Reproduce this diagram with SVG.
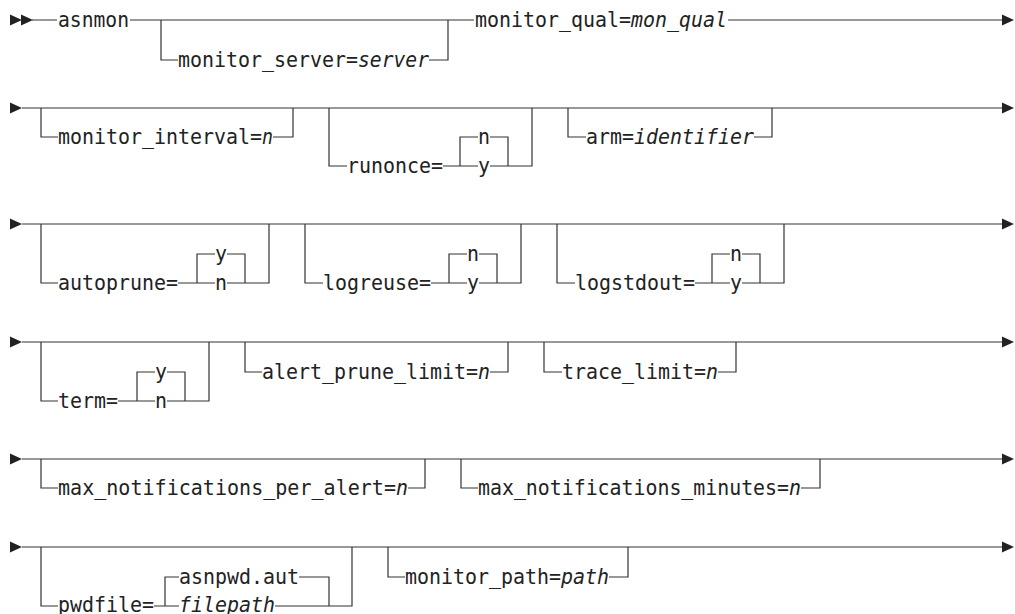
<svg xmlns="http://www.w3.org/2000/svg" xmlns:xlink="http://www.w3.org/1999/xlink" width="1015" height="614" viewBox="0 0 1015 614">
<style>
.t{font-family:"DejaVu Sans Mono","Liberation Mono",monospace;font-size:22px;fill:#222}
.i{font-style:italic}
.l{stroke:#333;stroke-width:1.2;fill:none}
.a{fill:#222}
</style>
<defs>
<path id="arr" d="M0,-5.5 L12,0 L0,5.5 Z"/>
</defs>
<rect width="1015" height="614" fill="#fff"/>
<g id="connectors">
<path class="l" d="M32,20 H57 M130,20 H474 M728,20 H1003 M161,20 V60 H178 M429,60 H448 V20"/>
<path class="l" d="M22,108 H1003 M41,108 V137 H58 M273,137 H293 V108 M329,108 V166 H347 M443,166 H478 M490,166 H532 V108 M460,166 V137 H478 M490,137 H508 V166 M568,108 V137 H586 M754,137 H772 V108"/>
<path class="l" d="M22,224 H1003 M41,224 V283 H58 M178,283 H215 M227,283 H269 V224 M197,283 V254 H215 M227,254 H245 V283 M305,224 V283 H323 M431,283 H467 M479,283 H521 V224 M449,283 V254 H467 M479,254 H497 V283 M557,224 V283 H575 M695,283 H730 M742,283 H784 V224 M712,283 V254 H730 M742,254 H760 V283"/>
<path class="l" d="M22,342 H1003 M41,342 V401 H58 M118,401 H155 M167,401 H209 V342 M137,401 V372 H155 M167,372 H185 V401 M245,342 V372 H262 M490,372 H508 V342 M544,342 V372 H562 M718,372 H736 V342"/>
<path class="l" d="M22,459 H1003 M41,459 V488 H58 M408,488 H425 V459 M461,459 V488 H478 M801,488 H820 V459"/>
<path class="l" d="M22,547 H1003 M41,547 V606 H58 M154,606 H179 M275,606 H352 V547 M165,606 V577 H179 M299,577 H329 V606 M388,547 V577 H405 M609,577 H628 V547"/>
<use xlink:href="#arr" class="a" x="10" y="20"/>
<use xlink:href="#arr" class="a" x="21" y="20"/>
<use xlink:href="#arr" class="a" x="1002" y="20"/>
<use xlink:href="#arr" class="a" x="10" y="108"/>
<use xlink:href="#arr" class="a" x="1002" y="108"/>
<use xlink:href="#arr" class="a" x="10" y="224"/>
<use xlink:href="#arr" class="a" x="1002" y="224"/>
<use xlink:href="#arr" class="a" x="10" y="342"/>
<use xlink:href="#arr" class="a" x="1002" y="342"/>
<use xlink:href="#arr" class="a" x="10" y="459"/>
<use xlink:href="#arr" class="a" x="1002" y="459"/>
<use xlink:href="#arr" class="a" x="10" y="547"/>
<use xlink:href="#arr" class="a" x="1002" y="547"/>
</g>
<g id="asnmon"><text class="t" x="58" y="27" textLength="71" lengthAdjust="spacingAndGlyphs">asnmon</text></g>
<g id="monitor_server"><text class="t" x="178" y="67" textLength="180" lengthAdjust="spacingAndGlyphs">monitor_server=</text>
<text class="t i" x="358" y="67" textLength="71" lengthAdjust="spacingAndGlyphs">server</text></g>
<g id="monitor_qual"><text class="t" x="475" y="27" textLength="156" lengthAdjust="spacingAndGlyphs">monitor_qual=</text>
<text class="t i" x="631" y="27" textLength="96" lengthAdjust="spacingAndGlyphs">mon_qual</text></g>
<g id="monitor_interval"><text class="t" x="58" y="144" textLength="204" lengthAdjust="spacingAndGlyphs">monitor_interval=</text>
<text class="t i" x="262" y="144" textLength="11" lengthAdjust="spacingAndGlyphs">n</text></g>
<g id="runonce"><text class="t" x="347" y="173" textLength="96" lengthAdjust="spacingAndGlyphs">runonce=</text>
<text class="t" x="478" y="144" textLength="12" lengthAdjust="spacingAndGlyphs">n</text>
<text class="t" x="478" y="173" textLength="12" lengthAdjust="spacingAndGlyphs">y</text></g>
<g id="arm"><text class="t" x="586" y="144" textLength="48" lengthAdjust="spacingAndGlyphs">arm=</text>
<text class="t i" x="634" y="144" textLength="120" lengthAdjust="spacingAndGlyphs">identifier</text></g>
<g id="autoprune"><text class="t" x="58" y="290" textLength="120" lengthAdjust="spacingAndGlyphs">autoprune=</text>
<text class="t" x="215" y="261" textLength="12" lengthAdjust="spacingAndGlyphs">y</text>
<text class="t" x="215" y="290" textLength="12" lengthAdjust="spacingAndGlyphs">n</text></g>
<g id="logreuse"><text class="t" x="323" y="290" textLength="108" lengthAdjust="spacingAndGlyphs">logreuse=</text>
<text class="t" x="467" y="261" textLength="12" lengthAdjust="spacingAndGlyphs">n</text>
<text class="t" x="467" y="290" textLength="12" lengthAdjust="spacingAndGlyphs">y</text></g>
<g id="logstdout"><text class="t" x="575" y="290" textLength="120" lengthAdjust="spacingAndGlyphs">logstdout=</text>
<text class="t" x="730" y="261" textLength="12" lengthAdjust="spacingAndGlyphs">n</text>
<text class="t" x="730" y="290" textLength="12" lengthAdjust="spacingAndGlyphs">y</text></g>
<g id="term"><text class="t" x="58" y="408" textLength="60" lengthAdjust="spacingAndGlyphs">term=</text>
<text class="t" x="155" y="379" textLength="12" lengthAdjust="spacingAndGlyphs">y</text>
<text class="t" x="155" y="408" textLength="12" lengthAdjust="spacingAndGlyphs">n</text></g>
<g id="alert_prune_limit"><text class="t" x="262" y="379" textLength="216" lengthAdjust="spacingAndGlyphs">alert_prune_limit=</text>
<text class="t i" x="478" y="379" textLength="12" lengthAdjust="spacingAndGlyphs">n</text></g>
<g id="trace_limit"><text class="t" x="562" y="379" textLength="144" lengthAdjust="spacingAndGlyphs">trace_limit=</text>
<text class="t i" x="706" y="379" textLength="12" lengthAdjust="spacingAndGlyphs">n</text></g>
<g id="max_notifications_per_alert"><text class="t" x="58" y="495" textLength="338" lengthAdjust="spacingAndGlyphs">max_notifications_per_alert=</text>
<text class="t i" x="396" y="495" textLength="12" lengthAdjust="spacingAndGlyphs">n</text></g>
<g id="max_notifications_minutes"><text class="t" x="478" y="495" textLength="311" lengthAdjust="spacingAndGlyphs">max_notifications_minutes=</text>
<text class="t i" x="789" y="495" textLength="12" lengthAdjust="spacingAndGlyphs">n</text></g>
<g id="pwdfile"><text class="t" x="58" y="612" textLength="96" lengthAdjust="spacingAndGlyphs">pwdfile=</text>
<text class="t" x="179" y="584" textLength="120" lengthAdjust="spacingAndGlyphs">asnpwd.aut</text>
<text class="t i" x="179" y="612" textLength="96" lengthAdjust="spacingAndGlyphs">filepath</text></g>
<g id="monitor_path"><text class="t" x="405" y="584" textLength="156" lengthAdjust="spacingAndGlyphs">monitor_path=</text>
<text class="t i" x="561" y="584" textLength="48" lengthAdjust="spacingAndGlyphs">path</text></g>
</svg>
